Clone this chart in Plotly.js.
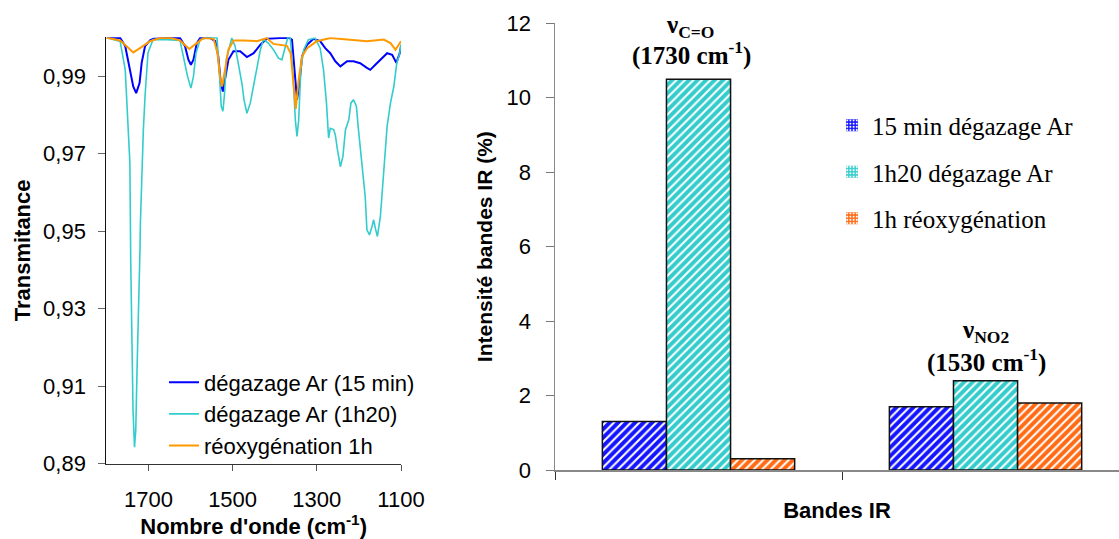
<!DOCTYPE html>
<html>
<head>
<meta charset="utf-8">
<script src="https://cdn.plot.ly/plotly-3.0.1.min.js"></script>
<style>html,body{margin:0;padding:0;background:#fff;}#chart{width:1119px;height:539px;}</style>
</head>
<body>
<div id="chart"></div>
<script>
// ---------- Left chart: IR spectra (wavenumber, transmittance) ----------
const specNames = ["dégazage Ar (15 min)", "dégazage Ar (1h20)", "réoxygénation 1h"];

const wn15 = [1799,1767,1755,1744,1736,1729,1721,1716,1708,1696,1688,1656,1625,1613,1605,1599,1593,1585,1577,1553,1541,1534,1528,1523,1518,1510,1498,1482,1466,1450,1434,1419,1387,1367,1359,1354,1347,1342,1335,1323,1308,1292,1280,1268,1256,1244,1228,1213,1197,1181,1173,1161,1145,1133,1121,1111,1103,1100];
const tr15 = [0.9999,0.9998,0.9977,0.9916,0.9873,0.9856,0.9882,0.9934,0.9977,0.9992,0.9996,0.9998,0.9998,0.9977,0.9942,0.9929,0.9942,0.9985,0.9998,0.9998,0.9990,0.9951,0.9882,0.9860,0.9891,0.9942,0.9964,0.9964,0.9949,0.9959,0.9981,0.9996,0.9998,0.9999,0.9994,0.9925,0.9839,0.9873,0.9951,0.9981,0.9996,0.9990,0.9972,0.9959,0.9938,0.9925,0.9938,0.9938,0.9933,0.9921,0.9916,0.9929,0.9946,0.9959,0.9955,0.9934,0.9959,0.9977];

const wn80 = [1798,1767,1755,1748,1744,1742,1739,1736.5,1733,1730,1727,1722,1720,1719,1716,1712,1708,1701,1689,1656,1625,1617,1607,1599,1593,1587,1577,1561,1541,1537,1531,1527,1523,1519,1515,1502,1494,1486,1478,1473,1466,1458,1450,1442,1434,1427,1415,1403,1391,1383,1375,1369,1363,1357,1351,1347,1343,1338,1331,1320,1304,1292,1284,1277,1272,1268,1260,1256,1251,1244,1238,1232,1224,1219,1213,1206,1201,1193,1185,1181,1175,1169,1165,1160,1156,1149,1143,1137,1133,1125,1117,1110,1103,1100];
const tr80 = [0.9999,0.9989,0.9916,0.9761,0.9676,0.9425,0.9193,0.9038,0.8942,0.8986,0.9141,0.9322,0.9451,0.9521,0.9640,0.9761,0.9847,0.9960,0.9994,0.9994,0.9992,0.9951,0.9899,0.9869,0.9899,0.9959,0.9994,0.9999,0.9999,0.9999,0.9899,0.9822,0.9809,0.9856,0.9942,0.9998,0.9977,0.9934,0.9882,0.9839,0.9804,0.9830,0.9873,0.9925,0.9968,0.9994,0.9985,0.9968,0.9946,0.9942,0.9977,0.9999,0.9999,0.9916,0.9787,0.9744,0.9787,0.9916,0.9968,0.9994,0.9998,0.9972,0.9916,0.9830,0.9740,0.9765,0.9762,0.9748,0.9710,0.9666,0.9692,0.9761,0.9787,0.9830,0.9839,0.9822,0.9761,0.9675,0.9589,0.9503,0.9490,0.9511,0.9529,0.9503,0.9486,0.9537,0.9632,0.9727,0.9770,0.9830,0.9873,0.9934,0.9959,0.9982];

const wnOx = [1799,1767,1752,1736,1720,1696,1672,1649,1625,1603,1585,1569,1545,1536,1530,1525,1518,1510,1498,1474,1442,1419,1403,1371,1362,1355,1350,1343,1335,1323,1300,1268,1213,1181,1141,1125,1113,1105,1100];
const trOx = [0.9999,0.9992,0.9977,0.9961,0.9972,0.9990,0.9998,0.9999,0.9992,0.9970,0.9985,0.9998,0.9996,0.9959,0.9899,0.9873,0.9916,0.9968,0.9992,0.9992,0.9990,0.9998,0.9983,0.9978,0.9959,0.9873,0.9815,0.9891,0.9951,0.9972,0.9990,0.9998,0.9994,0.9990,0.9994,0.9985,0.9968,0.9981,0.9990];

const specColors = ["#0000FF", "#33CCCC", "#FF9900"];
const xTickVals = [1700, 1500, 1300, 1100];
const yTickVals = [0.89, 0.91, 0.93, 0.95, 0.97, 0.99];
const yTickText = ["0,89", "0,91", "0,93", "0,95", "0,97", "0,99"];

// ---------- Right chart: IR band intensities ----------
const bandLabels = ["C=O", "NO2"];
const bandWavenumbers = [1730, 1530];
const barNames = ["15 min dégazage Ar", "1h20 dégazage Ar", "1h réoxygénation"];
const val15min = [1.3, 1.7];
const val1h20 = [10.5, 2.4];
const valReox = [0.3, 1.8];
const barColors = ["#1414FF", "#33CCCC", "#FF6A13"];

const W = 1119, H = 539;
const px = x => x / W;
const py = y => 1 - y / H;

const sans = "Liberation Sans, Arial, sans-serif";
const serif = "Liberation Serif, Times New Roman, serif";

const traces = [];
const specX = [wn15, wn80, wnOx], specY = [tr15, tr80, trOx];
const specW = [2, 1.6, 2];
for (let i = 0; i < 3; i++) {
  traces.push({
    type: "scatter", mode: "lines", x: specX[i], y: specY[i], name: specNames[i],
    line: {color: specColors[i], width: specW[i]}, xaxis: "x", yaxis: "y", legend: "legend"
  });
}
const barVals = [val15min, val1h20, valReox];
const cats = bandLabels.map((l, i) => l + " " + bandWavenumbers[i]);
for (let i = 0; i < 3; i++) {
  traces.push({
    type: "bar", x: cats, y: barVals[i], name: barNames[i], showlegend: false,
    xaxis: "x2", yaxis: "y2",
    marker: {color: barColors[i], line: {color: "#111", width: 1.5},
      pattern: {shape: "/", fgcolor: "#ffffff", bgcolor: barColors[i], size: 6, solidity: 0.35, fillmode: "replace"}}
  });
}
// legend keys for the bar series (dotted swatches as in the original); drawn off-range on a hidden axis
for (let i = 0; i < 3; i++) {
  traces.push({
    type: "bar", x: [0], y: [barVals[i][0]], name: barNames[i], legend: "legend2", legendgroup: "g" + i,
    xaxis: "x3", yaxis: "y3",
    marker: {color: barColors[i], line: {color: barColors[i], width: 0},
      pattern: {shape: ".", fgcolor: "#ffffff", bgcolor: barColors[i], size: 4, solidity: 0.35, fillmode: "replace"}}
  });
}

const annotations = [];
const annX = [690, 985];
const annY1 = [27, 331];
const annY2 = [53, 360];
for (let i = 0; i < 2; i++) {
  annotations.push({xref: "paper", yref: "paper", x: px(annX[i]), y: py(annY1[i]), xanchor: "center", yanchor: "middle",
    showarrow: false, text: "<b>ν<sub>" + bandLabels[i] + "</sub></b>",
    font: {family: serif, size: 25, color: "#000"}});
  annotations.push({xref: "paper", yref: "paper", x: px(annX[i] + 1), y: py(annY2[i]), xanchor: "center", yanchor: "middle",
    showarrow: false, text: "<b>(" + bandWavenumbers[i] + " cm<sup>-1</sup>)</b>",
    font: {family: serif, size: 25, color: "#000"}});
}

const layout = {
  width: W, height: H,
  margin: {l: 0, r: 0, t: 0, b: 0},
  paper_bgcolor: "#ffffff", plot_bgcolor: "rgba(0,0,0,0)",
  showlegend: true,
  barmode: "group", bargap: 0.33, bargroupgap: 0,
  xaxis: {
    domain: [px(106.3), px(401)], range: [1800, 1100], tickvals: xTickVals,
    ticks: "outside", ticklen: 6, tickcolor: "#555", showline: true, linecolor: "#333", linewidth: 1,
    showgrid: false, zeroline: false, tickfont: {family: sans, size: 22, color: "#000"}, ticklabelstandoff: 10,
    title: {text: "<b>Nombre d'onde (cm<sup>-1</sup>)</b>", font: {family: sans, size: 22, color: "#000"}, standoff: 4},
    anchor: "y", fixedrange: true
  },
  yaxis: {
    domain: [py(463.5), py(37.3)], range: [0.89, 1.0], tickvals: yTickVals, ticktext: yTickText,
    ticks: "outside", ticklen: 7, tickcolor: "#666", showline: true, linecolor: "#111", linewidth: 1,
    showgrid: false, zeroline: false, tickfont: {family: sans, size: 22, color: "#000"}, ticklabelstandoff: 8,
    title: {text: "<b>Transmitance</b>", font: {family: sans, size: 22, color: "#000"}, standoff: 6},
    anchor: "x", fixedrange: true
  },
  xaxis2: {
    domain: [px(555), 1], type: "category", range: [-0.5, 1.465], showticklabels: false,
    ticks: "outside", tickson: "boundaries", ticklen: 8, tickcolor: "#333", showline: true, linecolor: "#888", linewidth: 1.5,
    showgrid: false, zeroline: false,
    title: {text: "<b>Bandes IR</b>", font: {family: sans, size: 22, color: "#000"}, standoff: 32},
    anchor: "y2", fixedrange: true
  },
  yaxis2: {
    domain: [py(470), py(23.3)], range: [0, 12], dtick: 2, tick0: 0,
    ticks: "outside", ticklen: 8, tickcolor: "#777", showline: true, linecolor: "#888", linewidth: 1.5,
    showgrid: false, zeroline: false, tickfont: {family: sans, size: 22, color: "#000"}, ticklabelstandoff: 10,
    title: {text: "<b>Intensité bandes IR (%)</b>", font: {family: sans, size: 21, color: "#000"}, standoff: 8},
    anchor: "x2", fixedrange: true
  },
  xaxis3: {domain: [0, 0.01], range: [10, 11], visible: false, anchor: "y3", fixedrange: true},
  yaxis3: {domain: [0, 0.01], range: [100, 101], visible: false, anchor: "x3", fixedrange: true},
  legend: {
    x: px(164), xanchor: "left", y: py(414), yanchor: "middle",
    bgcolor: "rgba(0,0,0,0)", font: {family: sans, size: 22, color: "#000"},
    tracegroupgap: 0
  },
  legend2: {
    x: px(832), xanchor: "left", y: py(172), yanchor: "middle",
    bgcolor: "rgba(0,0,0,0)", font: {family: serif, size: 25, color: "#000"},
    traceorder: "grouped", tracegroupgap: 11
  },
  annotations: annotations
};

Plotly.newPlot("chart", traces, layout, {displayModeBar: false, staticPlot: true});
</script>
</body>
</html>
